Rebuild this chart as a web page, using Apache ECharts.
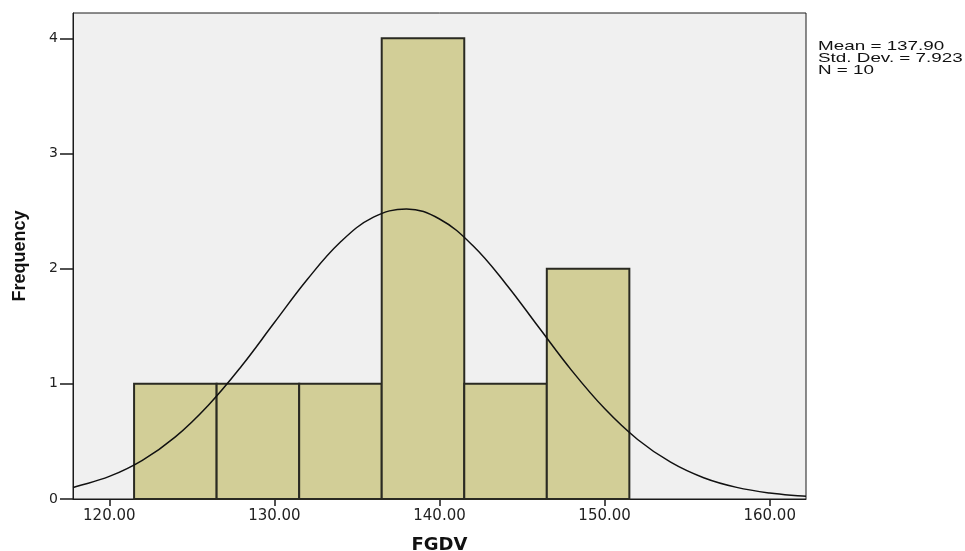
<!DOCTYPE html>
<html>
<head>
<meta charset="utf-8">
<script src="https://cdn.jsdelivr.net/npm/echarts@6/dist/echarts.min.js"></script>
<style>html,body{margin:0;padding:0;background:#fff}#c{width:965px;height:551px}</style>
</head>
<body>
<div id="c"></div>
<script>
// Histogram bins (start of each bin) and counts
const binStarts = [121.5, 126.5, 131.5, 136.5, 141.5, 146.5];
const binWidth = 5;
const counts = [1, 1, 1, 4, 1, 2];
// Normal curve (x, frequency)
const curveX = [117.8, 118, 120, 122, 124, 126, 128, 130, 132, 134, 136, 138, 140, 142, 144, 146, 148, 150, 152, 154, 156, 158, 160, 162, 162.2];
const curveY = [0.100, 0.108, 0.196, 0.336, 0.540, 0.815, 1.153, 1.532, 1.908, 2.231, 2.447, 2.518, 2.431, 2.203, 1.872, 1.493, 1.117, 0.785, 0.517, 0.320, 0.185, 0.101, 0.052, 0.025, 0.023];
const xTicks = [120, 130, 140, 150, 160];
const yTicks = [0, 1, 2, 3, 4];
const statsText = ['Mean = 137.90', 'Std. Dev. = 7.923', 'N = 10'];

const chart = echarts.init(document.getElementById('c'));
const barData = binStarts.map((s, i) => [s, s + binWidth, counts[i]]);
const curveData = curveX.map((x, i) => [x, curveY[i]]);

chart.setOption({
  animation: false,
  backgroundColor: '#ffffff',
  grid: {
    left: 73, right: 159, top: 13, bottom: 52,
    outerBoundsMode: 'none', containLabel: false,
    show: true, backgroundColor: '#F0F0F0', borderColor: '#1a1a1a', borderWidth: 1
  },
  xAxis: {
    type: 'value', min: 117.8, max: 162.2,
    name: 'FGDV', nameLocation: 'middle', nameGap: 37,
    nameTextStyle: { fontFamily: 'DejaVu Sans', fontWeight: 'bold', fontSize: 18, color: '#111' },
    axisLine: { show: true, lineStyle: { color: '#1a1a1a', width: 1 } },
    axisTick: { show: true, length: 7, customValues: xTicks, lineStyle: { color: '#1a1a1a', width: 1.5 } },
    axisLabel: { customValues: xTicks, formatter: v => v.toFixed(2), fontFamily: 'DejaVu Sans', fontSize: 15, color: '#222', margin: 10 },
    splitLine: { show: false }
  },
  yAxis: {
    type: 'value', min: 0, max: 4.22,
    name: 'Frequency', nameLocation: 'middle', nameGap: 44, nameRotate: 90,
    nameTextStyle: { fontFamily: 'Liberation Sans', fontWeight: 'bold', fontSize: 18, color: '#111' },
    axisLine: { show: true, lineStyle: { color: '#1a1a1a', width: 1 } },
    axisTick: { show: true, length: 13, customValues: yTicks, lineStyle: { color: '#1a1a1a', width: 1.5 } },
    axisLabel: { customValues: yTicks, fontFamily: 'DejaVu Sans', fontSize: 14, color: '#222', margin: 15 },
    splitLine: { show: false }
  },
  graphic: [{
    type: 'text', x: 818, y: 40, scaleX: 1.45, scaleY: 1,
    style: { x: 0, y: 0, text: statsText.join('\n'), fontFamily: 'Liberation Sans', fontSize: 13, lineHeight: 12, fill: '#111' }
  }],
  series: [{
    type: 'custom',
    data: barData,
    encode: { x: [0, 1], y: 2 },
    renderItem: function (params, api) {
      const p0 = api.coord([api.value(0), api.value(2)]);
      const p1 = api.coord([api.value(1), 0]);
      return {
        type: 'rect',
        shape: { x: p0[0], y: p0[1], width: p1[0] - p0[0], height: p1[1] - p0[1] },
        style: { fill: '#D2CE97', stroke: '#2a2a22', lineWidth: 2 }
      };
    },
    z: 2
  }, {
    type: 'line',
    data: curveData,
    smooth: 0.4,
    showSymbol: false,
    lineStyle: { color: '#111', width: 1.5 },
    z: 3
  }]
});
</script>
</body>
</html>
